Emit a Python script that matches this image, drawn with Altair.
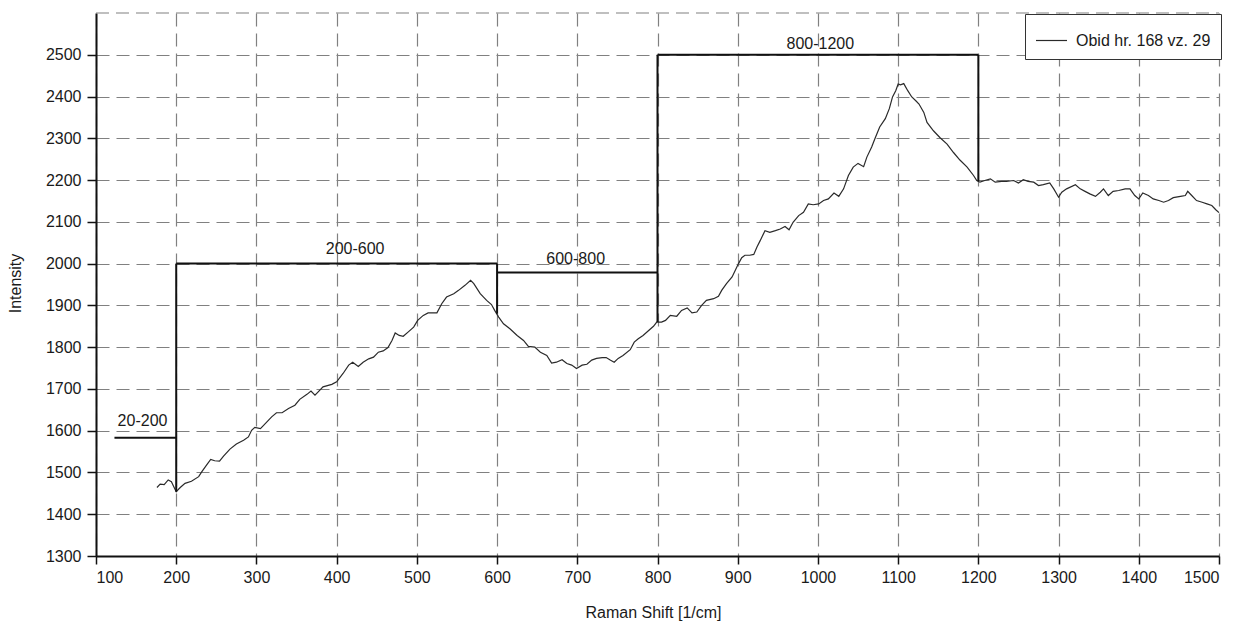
import altair as alt
import pandas as pd

# Raman spectrum: shift [1/cm] and measured intensity
shift = [
    176, 180, 185, 190, 194, 197, 200, 205, 211, 219, 228, 232, 238, 243, 248,
    254, 259, 267, 275, 284, 290, 294, 298, 305, 311, 319, 325, 332, 340, 348,
    354, 363, 368, 373, 377, 383, 394, 400, 408, 415, 420, 427, 433, 440, 446,
    452, 458, 464, 469, 473, 478, 483, 489, 496, 501, 508, 514, 525, 531, 537,
    546, 552, 560, 567, 571, 579, 587, 593, 597, 602, 608, 616, 625, 633, 639,
    647, 654, 662, 668, 674, 681, 687, 693, 699, 706, 712, 718, 724, 731, 736,
    741, 746, 751, 757, 766, 771, 776, 782, 789, 795, 799, 805, 810, 816, 824,
    830, 837, 843, 849, 855, 861, 870, 876, 880, 886, 893, 897, 901, 905, 909,
    915, 920, 924, 928, 934, 940, 947, 953, 959, 964, 969, 976, 982, 988, 994,
    1001, 1007, 1013, 1020, 1026, 1032, 1038, 1044, 1050, 1057, 1061, 1067, 1071,
    1077, 1084, 1089, 1093, 1097, 1100, 1103, 1107, 1112, 1117, 1122, 1126, 1132,
    1136, 1144, 1152, 1161, 1169, 1177, 1186, 1194, 1198, 1202, 1208, 1215, 1221,
    1229, 1235, 1244, 1250, 1256, 1262, 1269, 1275, 1281, 1289, 1294, 1300, 1304,
    1310, 1321, 1327, 1333, 1339, 1346, 1352, 1356, 1362, 1368, 1375, 1383, 1389,
    1395, 1400, 1405, 1412, 1418, 1425, 1431, 1437, 1443, 1452, 1458, 1461, 1466,
    1472, 1479, 1485, 1491, 1496, 1500,
]
intensity = [
    1464, 1472, 1471, 1482, 1478, 1466, 1454, 1464, 1474, 1479, 1490, 1502, 1518, 1531, 1528,
    1527, 1539, 1556, 1568, 1577, 1585, 1601, 1608, 1605, 1617, 1633, 1643, 1643, 1653, 1661,
    1675, 1687, 1695, 1685, 1693, 1705, 1711, 1717, 1737, 1757, 1764, 1754, 1764, 1772, 1776,
    1788, 1791, 1799, 1816, 1834, 1828, 1826, 1836, 1848, 1864, 1876, 1882, 1882, 1904, 1920,
    1928, 1936, 1948, 1960, 1952, 1928, 1912, 1902, 1888, 1872, 1856, 1844, 1828, 1816, 1802,
    1800, 1788, 1780, 1762, 1764, 1770, 1761, 1757, 1749, 1757, 1759, 1769, 1773, 1775, 1775,
    1769, 1764, 1773, 1780, 1794, 1812, 1820, 1828, 1840, 1850, 1860, 1860, 1864, 1876, 1874,
    1888, 1894, 1882, 1884, 1900, 1912, 1916, 1922, 1936, 1952, 1968, 1984, 2000, 2014, 2020,
    2020, 2022, 2040, 2055, 2079, 2075, 2079, 2083, 2089, 2081, 2099, 2115, 2123, 2143, 2141,
    2143, 2151, 2155, 2169, 2161, 2179, 2211, 2231, 2240, 2232, 2255, 2279, 2299,
    2327, 2347, 2371, 2399, 2414, 2430, 2428, 2431, 2414, 2399, 2390, 2382, 2362,
    2338, 2318, 2302, 2286, 2266, 2248, 2231, 2211, 2199, 2195, 2199, 2203, 2195,
    2197, 2197, 2199, 2193, 2201, 2197, 2195, 2187, 2189, 2193, 2179, 2159, 2171,
    2179, 2189, 2179, 2173, 2167, 2161, 2171, 2179, 2163, 2173, 2175, 2179, 2179,
    2163, 2155, 2169, 2163, 2155, 2151, 2147, 2151, 2158, 2161, 2163, 2173, 2163,
    2151, 2147, 2143, 2139, 2129, 2122,
]
series_name = "Obid hr. 168 vz. 29"

# Step outline marking the evaluated ranges (start/end of each segment)
seg_x = [123, 200, 200, 600, 600, 800, 800, 1200]
seg_y = [1583, 2000, 2000, 2000, 1979, 2500, 2500, 2500]
seg_x2 = [200, 200, 600, 600, 800, 800, 1200, 1200]
seg_y2 = [1583, 1454, 2000, 1880, 1979, 1860, 2500, 2197]

range_labels = ["20-200", "200-600", "600-800", "800-1200"]
label_x = [158, 423, 698, 1003]
label_y = [1623, 2035, 2012, 2526]

x_ticks = list(range(100, 1501, 100))
y_ticks = list(range(1300, 2501, 100))
y_top = [2600]

FONT = "Liberation Sans"
FS = 16
W, H = 1123, 543
GRID_DASH = [13, 7]
GRID_COLOR = "#808080"

spectrum = pd.DataFrame({"shift": shift, "intensity": intensity, "series": series_name})
segments = pd.DataFrame({"shift": seg_x, "intensity": seg_y, "shift2": seg_x2, "intensity2": seg_y2})
labels = pd.DataFrame({"shift": label_x, "intensity": label_y, "text": range_labels})
top_line = pd.DataFrame({"intensity": y_top})

x_scale = alt.Scale(domain=[100, 1500], nice=False, zero=False)
y_scale = alt.Scale(domain=[1300, 2600], nice=False, zero=False)

x_axis = alt.Axis(
    values=x_ticks, format="d", grid=True, gridDash=GRID_DASH, gridColor=GRID_COLOR, gridWidth=1.2,
    domainColor="#111", domainWidth=2, tickColor="#111", tickWidth=1.5, tickSize=8,
    labelFont=FONT, labelFontSize=FS, labelColor="#1a1a1a", labelPadding=5,
    title="Raman Shift [1/cm]", titleFont=FONT, titleFontSize=FS, titleFontWeight="normal",
    titleColor="#1a1a1a", titleX=557, titleY=56, titleBaseline="middle", titleAnchor="middle",
)
y_axis = alt.Axis(
    values=y_ticks, format="d", grid=True, gridDash=GRID_DASH, gridColor=GRID_COLOR, gridWidth=1.2,
    domainColor="#111", domainWidth=2, tickColor="#111", tickWidth=1.5, tickSize=9,
    labelFont=FONT, labelFontSize=FS, labelColor="#1a1a1a", labelPadding=6,
    title="Intensity", titleFont=FONT, titleFontSize=FS, titleFontWeight="normal",
    titleColor="#1a1a1a", titleX=-81, titleY=270, titleAngle=270, titleBaseline="middle",
    titleAlign="center",
)


def x_enc():
    return alt.X("shift:Q", scale=x_scale, axis=x_axis)


def y_enc():
    return alt.Y("intensity:Q", scale=y_scale, axis=y_axis)


top_grid = alt.Chart(top_line).mark_rule(
    color=GRID_COLOR, strokeDash=GRID_DASH, strokeWidth=1.2
).encode(y=y_enc(), x=alt.value(0), x2=alt.value(W))

curve = alt.Chart(spectrum).mark_line(strokeWidth=1.2, interpolate="linear").encode(
    x=x_enc(),
    y=y_enc(),
    color=alt.Color(
        "series:N",
        scale=alt.Scale(domain=[series_name], range=["#2a2a2a"]),
        legend=alt.Legend(
            title=None, orient="none", legendX=929, legendY=1,
            symbolType="stroke", symbolSize=960, symbolStrokeWidth=1.2,
            labelFont=FONT, labelFontSize=FS, labelColor="#1a1a1a", labelOffset=8,
            strokeColor="#333", fillColor="white", padding=10, cornerRadius=0,
        ),
    ),
)

steps = alt.Chart(segments).mark_rule(color="#111", strokeWidth=2).encode(
    x=x_enc(), y=y_enc(), x2="shift2:Q", y2="intensity2:Q"
)

texts = alt.Chart(labels).mark_text(
    font=FONT, fontSize=FS, color="#1a1a1a", align="center", baseline="middle"
).encode(x=x_enc(), y=y_enc(), text="text:N")

chart = (
    alt.layer(top_grid, curve, steps, texts)
    .properties(
        width=W, height=H,
        autosize=alt.AutoSizeParams(type="none"),
        padding={"left": 96, "top": 13, "right": 28, "bottom": 66},
        background="white",
    )
    .configure_view(strokeWidth=0)
)

chart.save("out.html", embed_options={"renderer": "svg", "actions": False})
